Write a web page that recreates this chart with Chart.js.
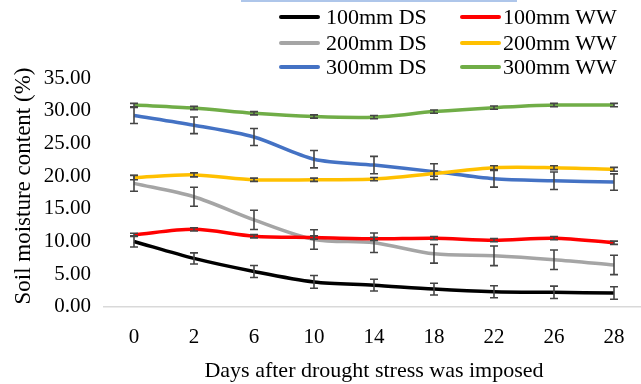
<!DOCTYPE html>
<html>
<head>
<meta charset="utf-8">
<script src="https://cdn.jsdelivr.net/npm/chart.js@4.4.1/dist/chart.umd.min.js"></script>
<style>
  html, body { margin: 0; padding: 0; background: #fff; overflow: hidden; width: 641px; height: 384px; }
  #wrap { position: relative; width: 641px; height: 384px; overflow: hidden; }
  canvas { position: absolute; left: 0; top: 0; }
  .topline { position: absolute; left: 241px; top: 0; width: 276px; height: 2px; background: #aec6ea; }
  .leg { position: absolute; font-family: "Liberation Serif", "Times New Roman", serif; font-size: 22px; line-height: 22px; color: #000; white-space: nowrap; }
  .sw { position: absolute; width: 41px; height: 4px; border-radius: 2px; }
</style>
</head>
<body>
<div id="wrap">
  <canvas id="c" width="646" height="384"></canvas>
  <div class="topline"></div>
  <div id="legend"></div>
</div>
<script>
// ---- data ----
const days = ['0', '2', '6', '10', '14', '18', '22', '26', '28'];
const seriesNames = ['100mm DS', '100mm WW', '200mm DS', '200mm WW', '300mm DS', '300mm WW'];
const ds100 = [10.0, 7.4, 5.4, 3.8, 3.3, 2.7, 2.3, 2.2, 2.1];
const ww100 = [11.0, 11.85, 10.8, 10.6, 10.4, 10.5, 10.2, 10.5, 9.8];
const ds200 = [18.9, 16.85, 13.3, 10.3, 9.8, 8.1, 7.8, 7.2, 6.4];
const ww200 = [19.8, 20.2, 19.45, 19.45, 19.55, 20.4, 21.3, 21.3, 21.05];
const ds300 = [29.3, 27.8, 26.0, 22.6, 21.7, 20.7, 19.6, 19.3, 19.1];
const ww300 = [30.9, 30.45, 29.65, 29.15, 29.05, 29.9, 30.5, 30.9, 30.9];
const errDs100 = [0.85, 0.85, 0.92, 0.97, 0.9, 0.9, 0.92, 0.95, 0.95];
const errWw100 = [0.25, 0.25, 0.25, 0.25, 0.25, 0.25, 0.25, 0.25, 0.25];
const errDs200 = [1.2, 1.45, 1.48, 1.5, 1.5, 1.43, 1.5, 1.5, 1.48];
const errWw200 = [0.35, 0.3, 0.25, 0.25, 0.25, 0.4, 0.3, 0.3, 0.3];
const errDs300 = [1.23, 1.28, 1.3, 1.33, 1.33, 1.2, 1.28, 1.35, 1.25];
const errWw300 = [0.25, 0.25, 0.25, 0.25, 0.25, 0.25, 0.25, 0.25, 0.25];
const yTicks = [0, 5, 10, 15, 20, 25, 30, 35];
const xTitle = 'Days after drought stress was imposed';
const yTitle = 'Soil moisture content (%)';

const colors = ['#000000', '#ff0000', '#a5a5a5', '#ffc000', '#4472c4', '#70ad47'];
const values = [ds100, ww100, ds200, ww200, ds300, ww300];
const errors = [errDs100, errWw100, errDs200, errWw200, errDs300, errWw300];

// ---- HTML legend ----
const legend = document.getElementById('legend');
const rowY = [17, 42.5, 67];
const colX = [{sw: 279, tx: 326}, {sw: 460, tx: 503}];
seriesNames.forEach((name, i) => {
  const r = Math.floor(i / 2), c = i % 2;
  const sw = document.createElement('div');
  sw.className = 'sw';
  sw.style.left = colX[c].sw + 'px';
  sw.style.top = (rowY[r] - 2) + 'px';
  sw.style.background = colors[i];
  legend.appendChild(sw);
  const t = document.createElement('div');
  t.className = 'leg';
  t.textContent = name;
  t.style.left = colX[c].tx + 'px';
  t.style.top = (rowY[r] - 11) + 'px';
  legend.appendChild(t);
});

// ---- plugins ----
const errorBars = {
  id: 'errorBars',
  afterDatasetsDraw(chart) {
    const ctx = chart.ctx, xs = chart.scales.x, ys = chart.scales.y;
    ctx.save();
    ctx.strokeStyle = '#454545';
    ctx.lineWidth = 1.6;
    chart.data.datasets.forEach((ds) => {
      ds.errors.forEach((e, i) => {
        const v = ds.data[i];
        const x = xs.getPixelForValue(i);
        const y1 = ys.getPixelForValue(v + e);
        const y2 = ys.getPixelForValue(v - e);
        ctx.beginPath();
        ctx.moveTo(x, y1); ctx.lineTo(x, y2);
        ctx.moveTo(x - 4, y1); ctx.lineTo(x + 4, y1);
        ctx.moveTo(x - 4, y2); ctx.lineTo(x + 4, y2);
        ctx.stroke();
      });
    });
    ctx.restore();
  }
};
const yTitlePlugin = {
  id: 'yTitlePlugin',
  afterDraw(chart) {
    const ctx = chart.ctx;
    ctx.save();
    ctx.translate(24, 186);
    ctx.rotate(-Math.PI / 2);
    ctx.font = '23px "Liberation Serif", serif';
    ctx.fillStyle = '#000';
    ctx.textAlign = 'center';
    ctx.textBaseline = 'middle';
    ctx.fillText(yTitle, 0, 0);
    ctx.restore();
  }
};

const font = { family: '"Liberation Serif", "Times New Roman", serif', size: 21 };

new Chart(document.getElementById('c'), {
  type: 'line',
  data: {
    labels: days,
    datasets: values.map((d, i) => ({
      label: seriesNames[i],
      data: d,
      errors: errors[i],
      borderColor: colors[i],
      backgroundColor: colors[i],
      borderWidth: 3.5,
      pointRadius: 0,
      tension: 0.3,
      fill: false
    }))
  },
  options: {
    responsive: false,
    animation: false,
    devicePixelRatio: 1,
    layout: { padding: { top: 78.3, right: 2, left: 0, bottom: 0 } },
    plugins: { legend: { display: false }, tooltip: { enabled: false } },
    scales: {
      x: {
        type: 'category',
        offset: true,
        grid: { display: false, drawTicks: false },
        border: { display: true, color: '#d9d9d9', width: 1.5 },
        ticks: { font: font, color: '#000', padding: 18, maxRotation: 0 },
        title: { display: true, text: xTitle, color: '#000',
                 font: { family: font.family, size: 22 }, padding: { top: 0, bottom: 0 } },
        afterFit(s) { s.height = 77.3; }
      },
      y: {
        min: 0, max: 35,
        afterBuildTicks(s) { s.ticks = yTicks.map(v => ({ value: v })); },
        grid: { display: false, drawTicks: false },
        border: { display: false },
        ticks: { font: font, color: '#000', padding: 13,
                 callback: (v) => Number(v).toFixed(2) },
        afterFit(s) { s.width = 104; }
      }
    }
  },
  plugins: [errorBars, yTitlePlugin]
});
</script>
</body>
</html>
